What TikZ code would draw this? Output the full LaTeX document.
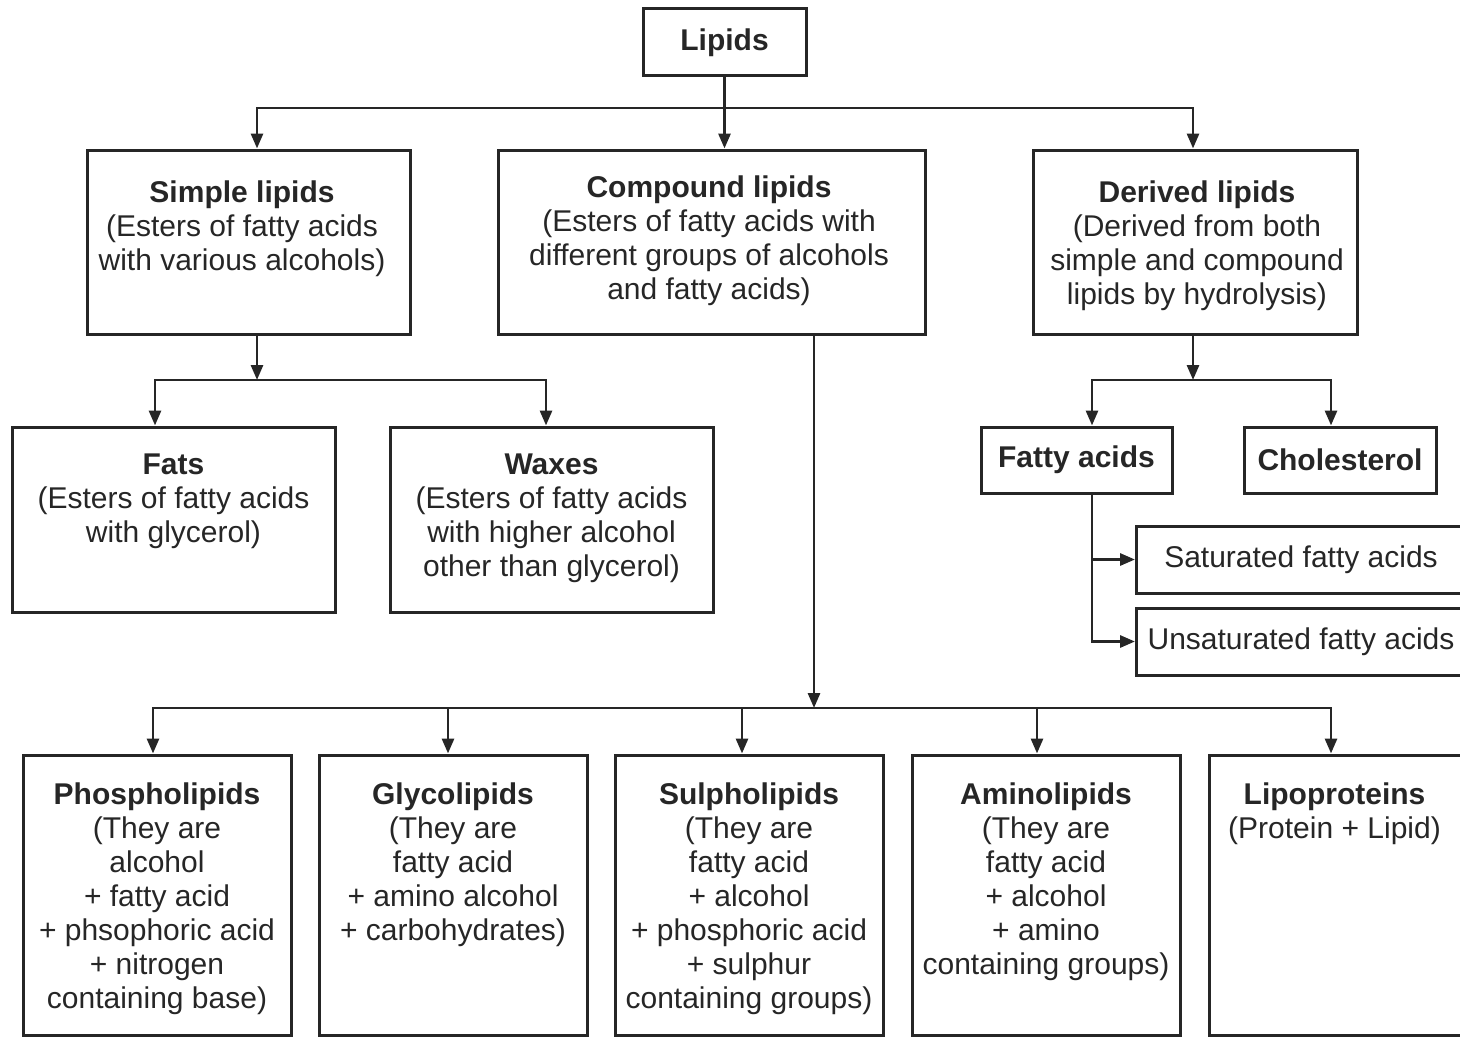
\documentclass[tikz,border=0pt]{standalone}
\usepackage{fontspec}
\setmainfont{Liberation Sans}
\usetikzlibrary{arrows.meta,positioning}
\definecolor{ink}{HTML}{262626}

\tikzset{
  box/.style={draw=ink, line width=1.5pt, inner sep=0pt, font=\fontsize{15}{17}\selectfont, text=ink},
  txt/.style={font=\fontsize{15}{17}\selectfont, text=ink, align=center, inner sep=0pt},
  link/.style={draw=ink, line width=1.45pt, ->},
}

\begin{document}
\begin{tikzpicture}[x=0.5pt, y=-0.5pt, >={Triangle[length=7.5pt,width=6pt]}]
  \useasboundingbox (0,0) rectangle (1460,1038);
  \clip (0,0) rectangle (1460,1038);

  % top level
  \node[box, minimum width=81.5pt, minimum height=33.5pt] (lipids) at (724.5,42.5) {\textbf{Lipids}};

  \node[box, minimum width=161.5pt, minimum height=92pt] (simple) at (248.5,242) {};
  \node[txt, below=16pt of simple.north, xshift=-3.25pt] {\textbf{Simple lipids}\\(Esters of fatty acids\\with various alcohols)};
  \node[box, minimum width=213.5pt, minimum height=92pt] (compound) at (711.5,242) {};
  \node[txt, below=13.5pt of compound.north, xshift=-1.25pt] {\textbf{Compound lipids}\\(Esters of fatty acids with\\different groups of alcohols\\and fatty acids)};
  \node[box, minimum width=162pt, minimum height=92pt] (derived) at (1195,242) {};
  \node[txt, below=16pt of derived.north, xshift=1pt] {\textbf{Derived lipids}\\(Derived from both\\simple and compound\\lipids by hydrolysis)};

  % simple lipids
  \node[box, minimum width=161.5pt, minimum height=92.5pt] (fats) at (173.5,519.5) {};
  \node[txt, below=14pt of fats.north] {\textbf{Fats}\\(Esters of fatty acids\\with glycerol)};
  \node[box, minimum width=161.5pt, minimum height=92.5pt] (waxes) at (551.5,519.5) {};
  \node[txt, below=14pt of waxes.north] {\textbf{Waxes}\\(Esters of fatty acids\\with higher alcohol\\other than glycerol)};

  % derived lipids
  \node[box, minimum width=95.5pt, minimum height=33pt] (fatty) at (1076.5,460) {\textbf{Fatty acids}};
  \node[box, minimum width=96pt, minimum height=33pt] (chol) at (1340,460) {\textbf{Cholesterol}};
  \node[box, anchor=west, minimum width=164.5pt, minimum height=33.5pt] (sat) at (1135,559.5) {Saturated fatty acids};
  \node[box, anchor=west, minimum width=164.5pt, minimum height=33.5pt] (unsat) at (1135,641.5) {Unsaturated fatty acids};

  % compound lipids
  \node[box, minimum width=134pt, minimum height=140pt] (phos) at (157,895) {};
  \node[txt, below=14.5pt of phos.north] {\textbf{Phospholipids}\\(They are\\alcohol\\+ fatty acid\\+ phsophoric acid\\+ nitrogen\\containing base)};
  \node[box, minimum width=134pt, minimum height=140pt] (glyco) at (453,895) {};
  \node[txt, below=14.5pt of glyco.north] {\textbf{Glycolipids}\\(They are\\fatty acid\\+ amino alcohol\\+ carbohydrates)};
  \node[box, minimum width=134pt, minimum height=140pt] (sulpho) at (749,895) {};
  \node[txt, below=14.5pt of sulpho.north] {\textbf{Sulpholipids}\\(They are\\fatty acid\\+ alcohol\\+ phosphoric acid\\+ sulphur\\containing groups)};
  \node[box, minimum width=134pt, minimum height=140pt] (amino) at (1046,895) {};
  \node[txt, below=14.5pt of amino.north] {\textbf{Aminolipids}\\(They are\\fatty acid\\+ alcohol\\+ amino\\containing groups)};
  \node[box, minimum width=134pt, minimum height=140pt] (lipo) at (1343,895) {};
  \node[txt, below=14.5pt of lipo.north, xshift=-4.25pt] {\textbf{Lipoproteins}\\(Protein + Lipid)};

  % connectors
  \coordinate (tbus) at (724,108);
  \coordinate (sbus) at (257,380);
  \coordinate (dbus) at (1193,380);
  \coordinate (cbus) at (814,708);

  \draw[link] (lipids) -- (lipids |- compound.north);
  \draw[link] (tbus) -| ([xshift=4.25pt]simple.north);
  \draw[link] (tbus) -| ([xshift=-1pt]derived.north);

  \draw[link] ([xshift=4.25pt]simple.south) -- (sbus);
  \draw[link] (sbus) -| ([xshift=-9.25pt]fats.north);
  \draw[link] (sbus) -| ([xshift=-2.75pt]waxes.north);

  \draw[link] ([xshift=-1pt]derived.south) -- (dbus);
  \draw[link] (dbus) -| ([xshift=7.75pt]fatty.north);
  \draw[link] (dbus) -| ([xshift=-4.5pt]chol.north);
  \draw[link] ([xshift=7.75pt]fatty.south) |- (sat);
  \draw[link] ([xshift=7.75pt]fatty.south) |- (unsat);

  \draw[link] ([xshift=51.25pt]compound.south) -- (cbus);
  \foreach \n/\dx in {phos/-2,glyco/-2.5,sulpho/-3.5,amino/-4.5,lipo/-6}
    \draw[link] (cbus) -| ([xshift=\dx pt]\n.north);
\end{tikzpicture}
\end{document}
